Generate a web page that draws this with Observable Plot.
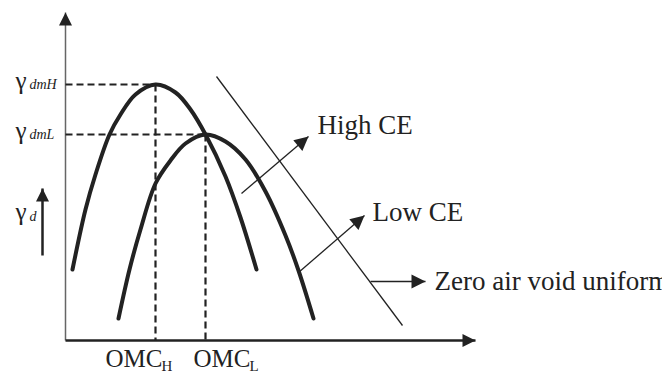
<!DOCTYPE html>
<html><head><meta charset="utf-8">
<script src="https://cdn.jsdelivr.net/npm/d3@7"></script>
<script src="https://cdn.jsdelivr.net/npm/@observablehq/plot@0.6"></script>
<style>html,body{margin:0;padding:0;background:#fff} svg{display:block}</style>
</head><body><div id="chart"></div>
<script>
// Compaction curves (schematic): moisture content w vs dry density γd (arbitrary units)
const highCE_w = [0.7, 2.0, 3.0, 4.4, 5.5, 7.0, 9.0, 11.0, 12.5, 14.0, 16.0, 17.5, 19.1];
const highCE_g = [7.1, 13.1, 16.6, 20.6, 22.6, 24.6, 25.6, 24.8, 23.1, 20.6, 16.4, 12.3, 7.1];
const lowCE_w  = [5.3, 6.4, 7.5, 9.0, 10.5, 12.0, 14.0, 16.0, 18.0, 20.0, 22.0, 23.3, 24.8];
const lowCE_g  = [2.2, 7.1, 11.1, 15.7, 18.0, 19.7, 20.6, 19.9, 18.1, 14.9, 10.5, 7.0, 2.2];
// optimum points (OMC, γdm)
const peakLabels = ["H", "L"];
const peak_w = [9.0, 14.0];
const peak_g = [25.6, 20.6];
// zero air void line
const zav_w = [15.1, 33.7];
const zav_g = [26.4, 1.5];
// annotation arrows (tail -> tip)
const arrowNames = ["High CE", "Low CE", "Zero air void uniform"];
const arrow_w1 = [17.6, 23.3, 30.5];
const arrow_g1 = [14.7, 6.8, 5.9];
const arrow_w2 = [24.3, 29.9, 36.0];
const arrow_g2 = [20.4, 12.5, 5.9];
// axes extent
const wMax = 41, gMax = 32.8;

const curves = [
  ...highCE_w.map((w, i) => ({series: "High CE", w, g: highCE_g[i]})),
  ...lowCE_w.map((w, i) => ({series: "Low CE", w, g: lowCE_g[i]}))
];
const peaks = peakLabels.map((k, i) => ({k, w: peak_w[i], g: peak_g[i]}));
const arrows = arrowNames.map((name, i) => ({name, x1: arrow_w1[i], y1: arrow_g1[i], x2: arrow_w2[i], y2: arrow_g2[i]}));
const axisArrows = [
  {x1: 0, y1: 0, x2: 0, y2: gMax, stroke: "#666", sw: 1.5},
  {x1: 0, y1: 0, x2: wMax, y2: 0, stroke: "#222", sw: 2.5}
];
const gdArrow = [{x1: -2.3, y1: 8.5, x2: -2.3, y2: 15.2}];

const head = {draw(ctx, l) { const w = l * 0.5; ctx.moveTo(0, -l); ctx.lineTo(-w, 0); ctx.lineTo(w, 0); ctx.closePath(); }};
const rot = d => Math.atan2(d.x2 - d.x1, d.y2 - d.y1) * 180 / Math.PI;
const ink = "#222";
const serif = "Liberation Serif, Times New Roman, serif";
const labelDx = {"High CE": 0.9, "Low CE": 0.8, "Zero air void uniform": 0.9};
const labelDy = {"High CE": 0.3, "Low CE": -0.5, "Zero air void uniform": -0.8};

const plot = Plot.plot({
  width: 662, height: 373,
  marginLeft: 65, marginRight: 187, marginTop: 12, marginBottom: 33,
  x: {domain: [0, wMax], axis: null},
  y: {domain: [0, gMax], axis: null},
  style: {fontFamily: serif, background: "#fff"},
  marks: [
    // axes
    Plot.link(axisArrows, {x1: "x1", y1: "y1", x2: "x2", y2: "y2", stroke: d => d.stroke, strokeWidth: d => d.sw}),
    Plot.vector(axisArrows, {x: "x2", y: "y2", rotate: rot, length: 13, anchor: "end", shape: head, fill: ink, stroke: "none"}),
    // dashed guides
    Plot.link(peaks, {x1: 0, y1: "g", x2: "w", y2: "g", stroke: ink, strokeWidth: 2.2, strokeDasharray: "7,4"}),
    Plot.link(peaks, {x1: "w", y1: "g", x2: "w", y2: 0, stroke: ink, strokeWidth: 2.2, strokeDasharray: "7,4"}),
    // compaction curves
    Plot.line(curves, {x: "w", y: "g", z: "series", curve: "catmull-rom", stroke: ink, strokeWidth: 4, strokeLinecap: "round"}),
    // zero air void line
    Plot.link([0], {x1: zav_w[0], y1: zav_g[0], x2: zav_w[1], y2: zav_g[1], stroke: ink, strokeWidth: 1.3}),
    // annotation arrows
    Plot.link(arrows, {x1: "x1", y1: "y1", x2: "x2", y2: "y2", stroke: ink, strokeWidth: 1.3}),
    Plot.vector(arrows, {x: "x2", y: "y2", rotate: rot, length: 14, anchor: "end", shape: head, fill: ink, stroke: "none"}),
    Plot.text(arrows, {x: d => d.x2 + labelDx[d.name], y: d => d.y2 + labelDy[d.name], text: "name", textAnchor: "start", lineAnchor: "bottom", fontSize: 27, fill: ink}),
    // γd arrow
    Plot.link(gdArrow, {x1: "x1", y1: "y1", x2: "x2", y2: "y2", stroke: ink, strokeWidth: 2.5}),
    Plot.vector(gdArrow, {x: "x2", y: "y2", rotate: rot, length: 13, anchor: "end", shape: head, fill: ink, stroke: "none"}),
    // y labels
    Plot.text(peaks, {x: -5.0, y: d => d.g - 0.4, text: () => "γ", textAnchor: "start", lineAnchor: "bottom", fontSize: 25, fill: ink}),
    Plot.text(peaks, {x: -3.6, y: d => d.g - 0.4, text: d => "dm" + d.k, textAnchor: "start", lineAnchor: "bottom", fontSize: 14, fontStyle: "italic", fill: ink}),
    Plot.text([0], {x: -5.0, y: 12.1, text: () => "γ", textAnchor: "start", lineAnchor: "bottom", fontSize: 25, fill: ink}),
    Plot.text([0], {x: -3.6, y: 12.0, text: () => "d", textAnchor: "start", lineAnchor: "bottom", fontSize: 14, fontStyle: "italic", fill: ink}),
    // x labels
    Plot.text(peaks, {x: d => d.w + (d.k === "L" ? -1.2 : -5.0), y: -2.6, text: () => "OMC", textAnchor: "start", lineAnchor: "bottom", fontSize: 25, fill: ink}),
    Plot.text(peaks, {x: d => d.w + (d.k === "L" ? 4.4 : 0.6), y: -3.0, text: "k", textAnchor: "start", lineAnchor: "bottom", fontSize: 15, fill: ink})
  ]
});
document.getElementById("chart").appendChild(plot);
</script>
</body></html>
